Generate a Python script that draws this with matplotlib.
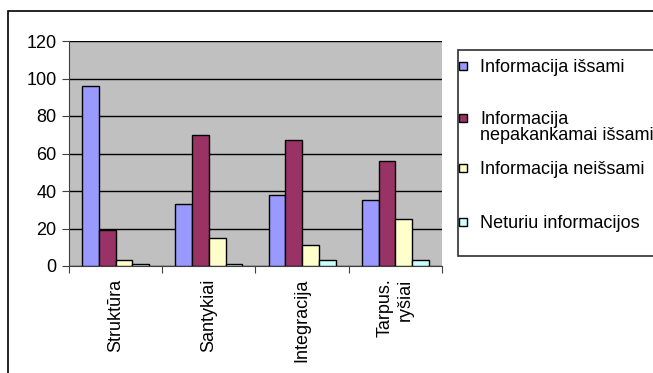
import matplotlib
matplotlib.use("Agg")
import matplotlib.pyplot as plt
from matplotlib.patches import Rectangle
import numpy as np

plt.rcParams['font.family'] = ['Liberation Sans', 'DejaVu Sans']

categories = ["Struktūra", "Santykiai", "Integracija", "Tarpus.\nryšiai"]
series_names = ["Informacija išsami",
                "Informacija\nnepakankamai išsami",
                "Informacija neišsami",
                "Neturiu informacijos"]
values_issami = [96, 33, 38, 35]
values_nepakankamai = [19, 70, 67, 56]
values_neissami = [3, 15, 11, 25]
values_neturiu = [1, 1, 3, 3]
series_values = [values_issami, values_nepakankamai, values_neissami, values_neturiu]
colors = ["#9999FF", "#993366", "#FFFFCC", "#CCFFFF"]
y_ticks = [0, 20, 40, 60, 80, 100, 120]

FS = 13
W, H = 653, 373
fig = plt.figure(figsize=(W / 100, H / 100), dpi=100)

# outer chart border
fig.patches.append(Rectangle((8 / W, -0.1), 1.2, (H - 11) / H + 0.1,
                             transform=fig.transFigure, fill=False,
                             edgecolor="black", linewidth=1.2))

ax = fig.add_axes([69 / W, (H - 266) / H, (442 - 69) / W, (266 - 41) / H])
ax.set_facecolor("#C0C0C0")

x = np.arange(len(categories))
bw = 0.179
offsets = (np.arange(4) - 1.5) * bw
for vals, off, col in zip(series_values, offsets, colors):
    ax.bar(x + off, vals, width=bw, color=col, edgecolor="black",
           linewidth=1.0, zorder=3)

ax.set_xlim(-0.5, len(categories) - 0.5)
ax.set_ylim(0, 120)
ax.set_yticks(y_ticks)
ax.set_yticklabels([str(t) for t in y_ticks], fontsize=FS)
ax.yaxis.grid(True, color="black", linewidth=1.0, zorder=1)
ax.set_axisbelow(True)

# category boundaries carry the tick marks; labels sit at the centres
ax.set_xticks(np.arange(len(categories) + 1) - 0.5)
ax.set_xticklabels([])
ax.set_xticks(x, minor=True)
ax.set_xticklabels(categories, minor=True, rotation=90, fontsize=FS,
                   va="top", ha="center", multialignment="right",
                   linespacing=1.2)
ax.tick_params(axis="x", which="minor", length=0, pad=9)
ax.tick_params(axis="x", which="major", length=5, color="#404040",
               direction="out")
ax.tick_params(axis="y", length=5, color="#404040", direction="out", pad=4)

for side in ["top", "right"]:
    ax.spines[side].set_visible(False)
ax.spines["left"].set_color("#404040")
ax.spines["bottom"].set_color("#404040")

# legend box
fig.patches.append(Rectangle((458 / W, (H - 256) / H), 0.5, (256 - 50) / H,
                             transform=fig.transFigure, facecolor="white",
                             edgecolor="#303030", linewidth=1.2))
entry_y = [66, 118, 168, 222]
line_step = 16
for name, col, yy in zip(series_names, colors, entry_y):
    fig.patches.append(Rectangle((459 / W, (H - yy - 4) / H), 8 / W, 8 / H,
                                 transform=fig.transFigure, facecolor=col,
                                 edgecolor="black", linewidth=1.0))
    for i, line in enumerate(name.split("\n")):
        fig.text(480 / W, (H - yy - i * line_step) / H, line, fontsize=FS,
                 va="center_baseline", ha="left",
                 transform=fig.transFigure)

fig.savefig("out.png", dpi=100)
